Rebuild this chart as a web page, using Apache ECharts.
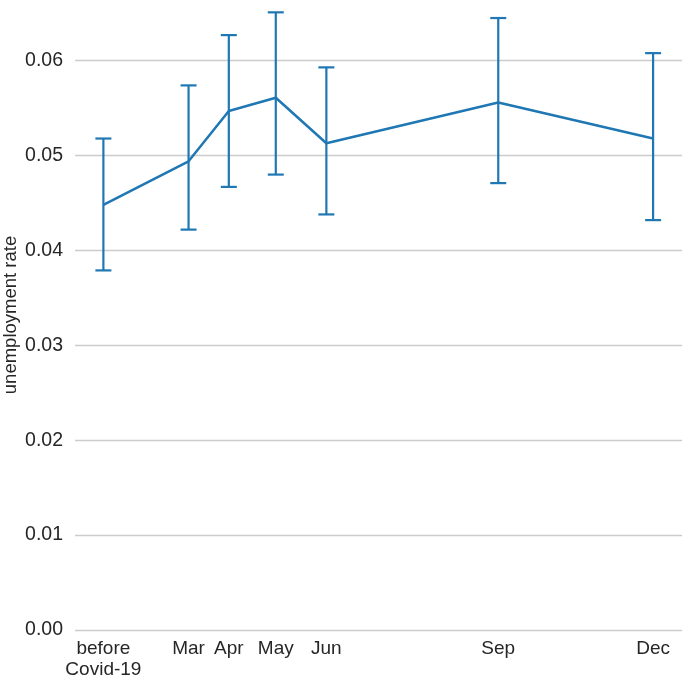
<!DOCTYPE html>
<html>
<head>
<meta charset="utf-8">
<script src="https://cdn.jsdelivr.net/npm/echarts@6/dist/echarts.min.js"></script>
<style>
  html, body { margin: 0; padding: 0; background: #fff; }
  #chart { width: 682px; height: 678px; }
</style>
</head>
<body>
<div id="chart"></div>
<script>
// survey waves (x position in months of 2020)
var waveLabels = ['before\nCovid-19', 'Mar', 'Apr', 'May', 'Jun', 'Sep', 'Dec'];
var wavePos = [1.35, 3.0, 3.78, 4.69, 5.67, 9.0, 12.0];
var rate = [0.0448, 0.0494, 0.0547, 0.0561, 0.0513, 0.0556, 0.0518];
var rateLow = [0.0379, 0.0422, 0.0467, 0.0480, 0.0438, 0.0471, 0.0432];
var rateHigh = [0.0518, 0.0574, 0.0627, 0.0651, 0.0593, 0.0645, 0.0608];

var blue = '#1f77b4';
var fontFam = '"Liberation Sans", Arial, Helvetica, sans-serif';

var chart = echarts.init(document.getElementById('chart'), null, { renderer: 'canvas' });

var lineData = wavePos.map(function (x, i) { return [x, rate[i]]; });
var errData = wavePos.map(function (x, i) { return [x, rateLow[i], rateHigh[i]]; });

var option = {
  backgroundColor: '#fff',
  animation: false,
  grid: { left: 75, right: 0, top: 0, bottom: 48, containLabel: false, outerBoundsMode: 'none' },
  xAxis: {
    type: 'value',
    min: 0.8,
    max: 12.56,
    axisLine: { show: false },
    axisTick: { show: false },
    splitLine: { show: false },
    axisLabel: {
      customValues: wavePos,
      formatter: function (v) {
        var i = wavePos.indexOf(v);
        return i >= 0 ? waveLabels[i] : '';
      },
      color: '#262626',
      fontSize: 19,
      fontFamily: fontFam,
      lineHeight: 21,
      margin: 8
    }
  },
  yAxis: {
    type: 'value',
    min: 0,
    max: 0.0664,
    interval: 0.01,
    name: 'unemployment rate',
    nameLocation: 'middle',
    nameGap: 55,
    nameMoveOverlap: false,
    nameTextStyle: { color: '#262626', fontSize: 18.5, fontFamily: fontFam },
    axisLine: { show: false },
    axisTick: { show: false },
    axisLabel: {
      showMaxLabel: false,
      formatter: function (v) { return v.toFixed(2); },
      color: '#262626',
      fontSize: 19.5,
      fontFamily: fontFam,
      margin: 12
    },
    splitLine: {
      show: true,
      showMaxLine: false,
      lineStyle: { color: '#cccccc', width: 1.3 }
    }
  },
  series: [
    {
      type: 'line',
      data: lineData,
      showSymbol: false,
      lineStyle: { color: blue, width: 2.5 },
      z: 3
    },
    {
      type: 'custom',
      data: errData,
      z: 4,
      renderItem: function (params, api) {
        var x = api.value(0);
        var lo = api.coord([x, api.value(1)]);
        var hi = api.coord([x, api.value(2)]);
        var cap = 8;
        var style = { stroke: blue, lineWidth: 2.2 };
        return {
          type: 'group',
          children: [
            { type: 'line', shape: { x1: lo[0], y1: lo[1], x2: hi[0], y2: hi[1] }, style: style },
            { type: 'line', shape: { x1: lo[0] - cap, y1: lo[1], x2: lo[0] + cap, y2: lo[1] }, style: style },
            { type: 'line', shape: { x1: hi[0] - cap, y1: hi[1], x2: hi[0] + cap, y2: hi[1] }, style: style }
          ]
        };
      }
    }
  ]
};

chart.setOption(option);
</script>
</body>
</html>
